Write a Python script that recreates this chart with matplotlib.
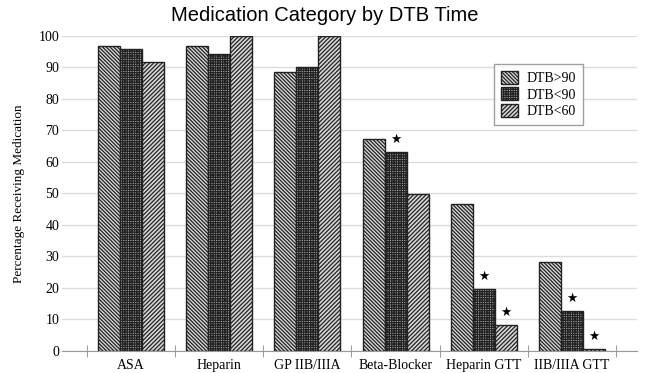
import matplotlib.pyplot as plt
import numpy as np

categories = ['ASA', 'Heparin', 'GP IIB/IIIA', 'Beta-Blocker', 'Heparin GTT', 'IIB/IIIA GTT']
dtb_over_90 = [96.8, 96.8, 88.5, 67.3, 46.7, 28.3]
dtb_under_90 = [95.9, 94.4, 90.1, 63.2, 19.7, 12.7]
dtb_under_60 = [91.7, 100.0, 100.0, 49.8, 8.3, 0.6]
# significance stars: (category index, series index)
stars = [(3, 1), (4, 1), (4, 2), (5, 1), (5, 2)]

series = [('DTB>90', dtb_over_90, '\\' * 9, '#d8d8d8'),
          ('DTB<90', dtb_under_90, '+' * 7, '#b0b0b0'),
          ('DTB<60', dtb_under_60, '/' * 8, '#d8d8d8')]

plt.rcParams['hatch.linewidth'] = 0.9
serif = 'Liberation Serif'

fig = plt.figure(figsize=(6.5, 3.73), dpi=100)
ax = fig.add_axes([0.0954, 0.059, 0.8846, 0.8445])

x = np.arange(len(categories))
w = 0.25
for i, (name, vals, hatch, fc) in enumerate(series):
    ax.bar(x + (i - 1) * w, vals, w, facecolor=fc, edgecolor='#222222',
           hatch=hatch, linewidth=1.0, label=name, zorder=3)

for ci, si in stars:
    vals = series[si][1]
    ax.text(x[ci] + (si - 1) * w, vals[ci] + 2.0, '★', ha='center', va='bottom',
            fontsize=9, color='black', family='DejaVu Sans', zorder=4)

ax.set_xlim(-0.785, 5.74)
ax.set_ylim(0, 100)
ax.set_yticks(np.arange(0, 101, 10))
ax.grid(axis='y', color='#dcdcdc', linewidth=1.0, zorder=0)
ax.set_xticks(x)
ax.set_xticklabels(categories, family=serif, fontsize=10)
ax.set_xticks(np.arange(-0.5, 6, 1), minor=True)
ax.tick_params(axis='x', which='major', length=0, pad=6)
ax.tick_params(axis='x', which='minor', direction='inout', length=8, color='#888888')
ax.tick_params(axis='y', length=0, pad=2, labelsize=10)
for lbl in ax.get_yticklabels():
    lbl.set_family(serif)

for s in ['top', 'right', 'left']:
    ax.spines[s].set_visible(False)
ax.spines['bottom'].set_color('#999999')

ax.set_ylabel('Percentage Receiving Medication', family=serif, fontsize=9.5, labelpad=10)

leg = ax.legend(loc='upper left', bbox_to_anchor=(0.752, 0.912), borderaxespad=0,
                fancybox=False, edgecolor='#888888', prop={'family': serif, 'size': 10},
                handlelength=1.2, handleheight=1.1, handletextpad=0.6,
                labelspacing=0.15, borderpad=0.5)
leg.get_frame().set_linewidth(1.0)

fig.suptitle('Medication Category by DTB Time', x=0.5, y=0.985, fontsize=14.5,
             family='Liberation Sans')

fig.savefig('out.png', dpi=100)
